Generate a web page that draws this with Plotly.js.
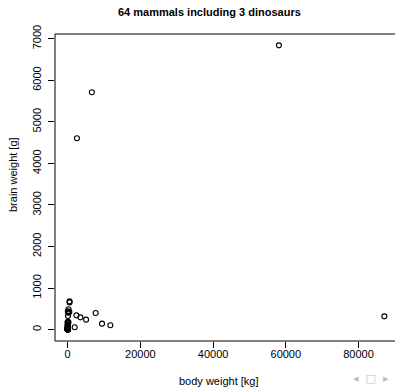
<!DOCTYPE html>
<html>
<head>
<meta charset="utf-8">
<script src="https://cdn.plot.ly/plotly-3.0.1.min.js"></script>
<style>
  html, body { margin: 0; padding: 0; overflow: hidden; background: #fff; }
  #plot { width: 397px; height: 389px; }
</style>
</head>
<body>
<div id="plot"></div>
<script>
// Body weight [kg] and brain weight [g]
// (the dense cluster near the origin is estimated)
const bodyKg = [
  58100, 6654, 2547, 87100, 2400, 3500, 5060, 7700, 9450, 11740, 1930,
  3.385, 0.48, 1.35, 465, 36.33, 27.66, 14.83, 1.04, 4.19, 0.425, 0.101,
  0.92, 1, 3.5, 2, 1.7, 187.1, 521, 0.785, 10, 3.3, 0.2, 1.41, 529, 207,
  85, 0.75, 3.5, 6.8, 35, 4.05, 0.12, 1.4, 250, 2.5, 55.5, 100, 52.16,
  10.55, 0.55, 60, 3.6, 4.288, 0.28, 0.075, 0.122, 192, 3, 160, 0.9,
  1.62, 0.104, 4.235
];
const brainG = [
  6840, 5712, 4603, 320, 344, 296, 240, 401, 144, 104, 56,
  44.5, 15.5, 8.1, 423, 119.5, 115, 98.2, 5.5, 58, 6.4, 4,
  5.7, 6.6, 10.8, 12.3, 6.3, 419, 655, 3.5, 115, 25.6, 5, 17.5, 680, 406,
  325, 12.3, 3.9, 179, 56, 17, 1, 12.5, 490, 12.1, 175, 157, 440,
  179.5, 2.4, 81, 21, 39.2, 1.9, 1.2, 3, 180, 25, 169, 2.6,
  11.4, 2.5, 50.4
];
const xTicks = [0, 20000, 40000, 60000, 80000];
const yTicks = [0, 1000, 2000, 3000, 4000, 5000, 6000, 7000];
const titleText = "64 mammals including 3 dinosaurs";
const xLabel = "body weight [kg]";
const yLabel = "brain weight [g]";

const FONT = "Liberation Sans, Arial, Helvetica, sans-serif";

const trace = {
  type: "scatter",
  mode: "markers",
  x: bodyKg,
  y: brainG,
  marker: { symbol: "circle-open", size: 5, color: "#000", line: { width: 1.1, color: "#000" } },
  hoverinfo: "x+y"
};

const W = 397, H = 389, L = 55, T = 34, B = 48;
const pw = W - L, ph = H - T - B;
function px2x(p) { return (p - L) / pw; }
function py2y(p) { return (H - B - p) / ph; }

const layout = {
  width: W, height: H,
  margin: { l: L, r: 0, t: T, b: B, pad: 0 },
  paper_bgcolor: "#fff", plot_bgcolor: "#fff",
  showlegend: false,
  font: { family: FONT, size: 11, color: "#000" },
  xaxis: {
    range: [-3484, 90584],
    tickvals: xTicks, ticktext: xTicks.map(String),
    ticks: "outside", ticklen: 6, tickwidth: 1, tickcolor: "#000",
    ticklabelstandoff: -3,
    showgrid: false, zeroline: false, showline: false,
    tickfont: { family: FONT, size: 11, color: "#000" },
    fixedrange: true
  },
  yaxis: {
    range: [-273.6, 7112.6],
    tickvals: yTicks, ticktext: yTicks.map(String),
    ticks: "outside", ticklen: 6, tickwidth: 1, tickcolor: "#000",
    ticklabelstandoff: 3,
    tickangle: -90,
    showgrid: false, zeroline: false, showline: false,
    tickfont: { family: FONT, size: 11, color: "#000" },
    fixedrange: true
  },
  shapes: [
    { type: "rect", xref: "paper", yref: "paper", x0: 0, x1: 1, y0: 0, y1: 1,
      line: { color: "#000", width: 1 }, fillcolor: "rgba(0,0,0,0)" }
  ],
  annotations: [
    { text: "<b>" + titleText + "</b>", xref: "paper", yref: "paper",
      x: px2x(209), y: py2y(12), xanchor: "center", yanchor: "middle",
      showarrow: false, font: { family: FONT, size: 11, color: "#000" } },
    { text: xLabel, xref: "paper", yref: "paper",
      x: px2x(219), y: py2y(381), xanchor: "center", yanchor: "middle",
      showarrow: false, font: { family: FONT, size: 11, color: "#000" } },
    { text: yLabel, xref: "paper", yref: "paper",
      x: px2x(13), y: py2y(175), xanchor: "center", yanchor: "middle",
      textangle: -90, showarrow: false, font: { family: FONT, size: 11, color: "#000" } },
    { text: "◂ &nbsp;□&nbsp; ▸", xref: "paper", yref: "paper",
      x: px2x(371), y: py2y(378), xanchor: "center", yanchor: "middle",
      showarrow: false, font: { family: "DejaVu Sans, sans-serif", size: 11, color: "#b4bcd6" } }
  ]
};

Plotly.newPlot("plot", [trace], layout, { displayModeBar: false, staticPlot: true });
</script>
</body>
</html>
